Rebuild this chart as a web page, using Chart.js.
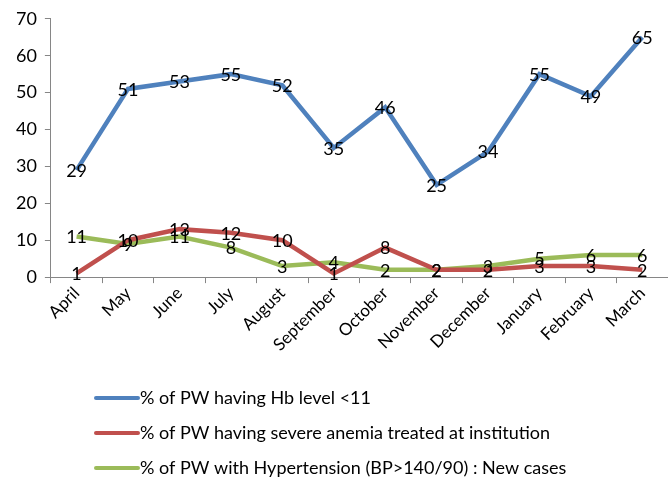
<!DOCTYPE html>
<html>
<head>
<meta charset="utf-8">
<script src="https://cdn.jsdelivr.net/npm/chart.js@4"></script>
<style>
html,body{margin:0;padding:0;background:#fff;}
#wrap{width:668px;height:477px;position:relative;}
</style>
</head>
<body>
<div id="wrap"><canvas id="c" width="668" height="477"></canvas></div>
<script>
const months = ["April","May","June","July","August","September","October","November","December","January","February","March"];
const hbLow = [29,51,53,55,52,35,46,25,34,55,49,65];
const severeAnemia = [1,10,13,12,10,1,8,2,2,3,3,2];
const hypertension = [11,9,11,8,3,4,2,2,3,5,6,6];
const seriesNames = [
  "% of PW having Hb level <11",
  "% of PW having severe anemia treated at institution",
  "% of PW with Hypertension (BP>140/90) : New cases"
];
const yTicks = [0,10,20,30,40,50,60,70];
const FONT = "Lato, 'Open Sans', sans-serif";

const labelPlugin = {
  id: 'pointLabels',
  afterDatasetsDraw(chart) {
    const ctx = chart.ctx;
    ctx.save();
    ctx.font = "18px " + FONT;
    ctx.fillStyle = "#000";
    ctx.textAlign = "center";
    ctx.textBaseline = "middle";
    chart.data.datasets.forEach((ds, i) => {
      const meta = chart.getDatasetMeta(i);
      meta.data.forEach((pt, j) => {
        ctx.fillText(String(ds.data[j]), pt.x, pt.y + 1);
      });
    });
    ctx.restore();
  }
};

const legendPlugin = {
  id: 'customLegend',
  afterDraw(chart) {
    const ctx = chart.ctx;
    ctx.save();
    ctx.font = "18px " + FONT;
    ctx.textBaseline = "middle";
    ctx.textAlign = "left";
    const x0 = 96, lineW = 42, rows = [398, 433, 468];
    chart.data.datasets.forEach((ds, i) => {
      const y = rows[i];
      ctx.strokeStyle = ds.borderColor;
      ctx.lineWidth = 4;
      ctx.lineCap = "round";
      ctx.beginPath();
      ctx.moveTo(x0, y);
      ctx.lineTo(x0 + lineW, y);
      ctx.stroke();
      ctx.fillStyle = "#000";
      ctx.fillText(ds.label, x0 + lineW + 2, y);
    });
    ctx.restore();
  }
};

new Chart(document.getElementById('c'), {
  type: 'line',
  data: {
    labels: months,
    datasets: [
      {label: seriesNames[0], data: hbLow, borderColor: '#4F81BD', backgroundColor: '#4F81BD'},
      {label: seriesNames[1], data: severeAnemia, borderColor: '#C0504D', backgroundColor: '#C0504D'},
      {label: seriesNames[2], data: hypertension, borderColor: '#9BBB59', backgroundColor: '#9BBB59'}
    ].map(d => Object.assign(d, {borderWidth: 4.5, pointRadius: 0, tension: 0, fill: false}))
  },
  options: {
    responsive: false,
    animation: false,
    layout: {padding: {top: 9, right: 0, left: 8, bottom: 122}},
    plugins: {legend: {display: false}, tooltip: {enabled: false}},
    scales: {
      x: {
        offset: true,
        grid: {display: true, drawOnChartArea: false, drawTicks: true, tickLength: 6, color: '#868686', offset: true},
        border: {color: '#868686', width: 1},
        ticks: {color: '#000', font: {size: 17, family: FONT}, maxRotation: 45, minRotation: 45, padding: 0, autoSkip: false}
      },
      y: {
        min: 0, max: 70,
        afterBuildTicks(axis) { axis.ticks = yTicks.map(v => ({value: v})); },
        grid: {display: true, drawOnChartArea: false, drawTicks: true, tickLength: 6, color: '#868686'},
        border: {color: '#868686', width: 1},
        ticks: {color: '#000', font: {size: 18, family: FONT}, padding: 8}
      }
    }
  },
  plugins: [labelPlugin, legendPlugin]
});
</script>
</body>
</html>
